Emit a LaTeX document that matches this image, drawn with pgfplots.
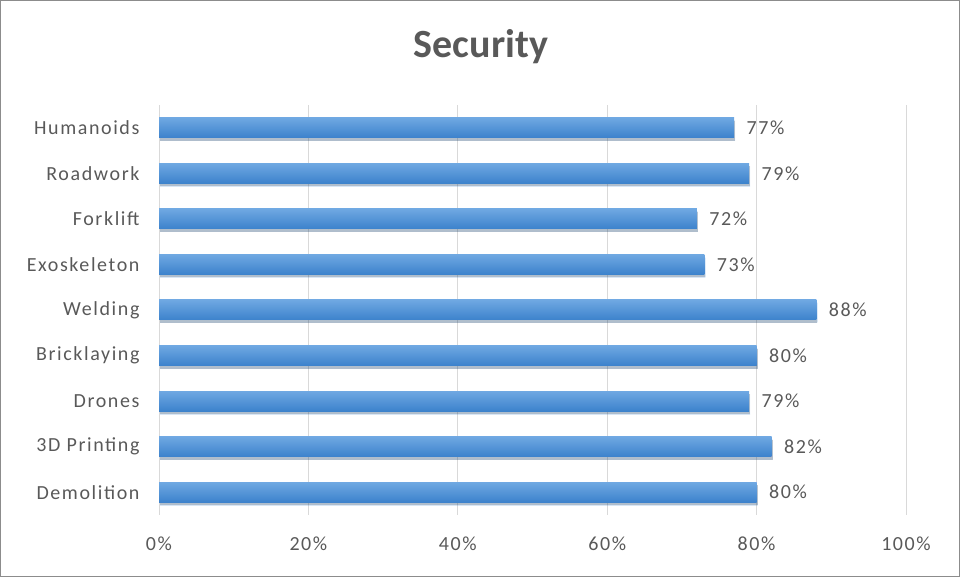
\documentclass[border=0pt]{standalone}
\usepackage{pgfplots}
\pgfplotsset{compat=1.18}
\usepackage{fontspec}
\setmainfont{Carlito}
\newfontfamily\lblfont[LetterSpace=8]{Carlito}
\definecolor{txt}{HTML}{595959}
\definecolor{gridc}{HTML}{D9D9D9}
\definecolor{bartop}{HTML}{6FA8E2}
\definecolor{barbot}{HTML}{3C82CC}
\begin{document}
\begin{tikzpicture}[x=1pt,y=1pt]
\path[use as bounding box, draw=black!45, line width=1pt] (0.5,0.5) rectangle (959.5,576.5);
\node[font=\bfseries\fontsize{40}{46}\selectfont, text=txt] at (481,530) {Security};
\begin{axis}[
  at={(159pt,62pt)}, anchor=south west,
  scale only axis, width=747pt, height=410pt,
  xbar, bar width=20pt, bar shift=0pt,
  xmin=0, xmax=100, ymin=-0.5, ymax=8.5,
  xtick={0,20,40,60,80,100},
  xticklabel={\pgfmathprintnumber{\tick}\%},
  /pgf/number format/assume math mode=true,
  ytick={0,...,8},
  yticklabels={Demolition,3D Printing,Drones,Bricklaying,Welding,Exoskeleton,Forklift,Roadwork,Humanoids},
  xmajorgrids, major grid style={gridc, line width=1pt},
  axis line style={draw=none},
  major tick length=0pt,
  tick label style={font=\lblfont\fontsize{20}{22}\selectfont, text=txt},
  xticklabel style={yshift=-18pt},
  yticklabel style={xshift=-16pt},
  nodes near coords={\pgfmathprintnumber{\pgfplotspointmeta}\%},
  nodes near coords style={font=\lblfont\fontsize{20}{22}\selectfont, text=txt, anchor=west, xshift=9pt},
  every axis plot/.append style={draw=none, top color=bartop, bottom color=barbot,
     preaction={fill=black, opacity=0.2, transform canvas={xshift=1pt, yshift=-3pt}}},
]
\addplot coordinates {(80,0)};
\addplot coordinates {(82,1)};
\addplot coordinates {(79,2)};
\addplot coordinates {(80,3)};
\addplot coordinates {(88,4)};
\addplot coordinates {(73,5)};
\addplot coordinates {(72,6)};
\addplot coordinates {(79,7)};
\addplot coordinates {(77,8)};
\end{axis}
\end{tikzpicture}
\end{document}
